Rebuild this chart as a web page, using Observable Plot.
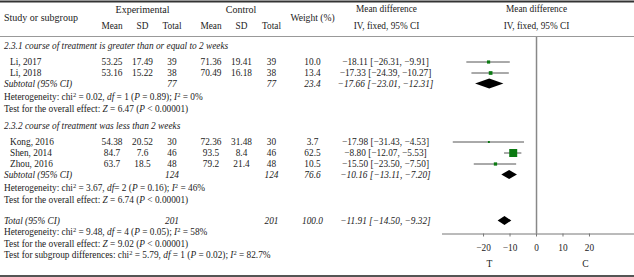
<!DOCTYPE html>
<html><head><meta charset="utf-8">
<script src="https://cdn.jsdelivr.net/npm/d3@7"></script>
<script src="https://cdn.jsdelivr.net/npm/@observablehq/plot@0.6"></script>
<style>
html,body{margin:0;padding:0;background:#fff;}
#chart{width:634px;height:277px;}
#chart svg{display:block;}
#chart svg text{font-family:'Liberation Serif','DejaVu Serif',serif;}
</style></head><body><div id="chart"></div>
<script>
// ---------- data ----------
const groupTitles = ["2.3.1 course of treatment is greater than or equal to 2 weeks",
                     "2.3.2 course of treatment was less than 2 weeks"];
const studies   = ["Li, 2017", "Li, 2018", "Kong, 2016", "Shen, 2014", "Zhou, 2016"];
const studyGroup = [0, 0, 1, 1, 1];
const expMean   = ["53.25", "53.16", "54.38", "84.7", "63.7"];
const expSD     = ["17.49", "15.22", "20.52", "7.6", "18.5"];
const expTotal  = [39, 38, 30, 46, 48];
const ctlMean   = ["71.36", "70.49", "72.36", "93.5", "79.2"];
const ctlSD     = ["19.41", "16.18", "31.48", "8.4", "21.4"];
const ctlTotal  = [39, 38, 30, 46, 48];
const weight    = [10.0, 13.4, 3.7, 62.5, 10.5];
const md        = [-18.11, -17.33, -17.98, -8.80, -15.50];
const mdLo      = [-26.31, -24.39, -31.43, -12.07, -23.50];
const mdHi      = [-9.91, -10.27, -4.53, -5.53, -7.50];
const subExp    = [77, 124];
const subCtl    = [77, 124];
const subWeight = [23.4, 76.6];
const subMD     = [-17.66, -10.16];
const subLo     = [-23.01, -13.11];
const subHi     = [-12.31, -7.20];
const subHet    = ["Heterogeneity: chi^2 = 0.02, _df_ = 1 (_P_ = 0.89); _I_^2 = 0%",
                   "Heterogeneity: chi^2 = 3.67, _df_= 2 (_P_ = 0.16); _I_^2 = 46%"];
const subTest   = ["Test for the overall effect: _Z_ = 6.47 (_P_ < 0.00001)",
                   "Test for the overall effect: _Z_ = 6.74 (_P_ < 0.00001)"];
const totalLabel = "Total (95% CI)";
const subLabel   = "Subtotal (95% CI)";
const totalExp = 201, totalCtl = 201, totalWeight = 100.0;
const totalMD = -11.91, totalLo = -14.50, totalHi = -9.32;
const totalStats = ["Heterogeneity: chi^2 = 9.48, _df_ = 4 (_P_ = 0.05); _I_^2 = 58%",
                    "Test for the overall effect: _Z_ = 9.02 (_P_ < 0.00001)",
                    "Test for subgroup differences: chi^2 = 5.79, _df_ = 1 (_P_ = 0.02); _I_^2 = 82.7%"];
const headTop   = ["Experimental", "Control", "Mean difference", "Mean difference"];
const headSide  = ["Study or subgroup", "Weight (%)"];
const headSub   = ["Mean", "SD", "Total", "Mean", "SD", "Total"];
const headMethod = "IV, fixed, 95% CI";
const xTicks    = [-20, -10, 0, 10, 20];
const sideLabels = ["T", "C"];

// ---------- layout ----------
const W = 634, H = 277;
const xDomain = [-35.5, 37];
const xRange = [442, 634];
const axisY = 233.5, headRuleY = 36;
const col = {name: 3.5, study: 9.5, eMean: 111.5, eSD: 142, eTot: 171.5, cMean: 210.5, cSD: 241, cTot: 271, wt: 312, md: 385};
const FONT = "'Liberation Serif', 'DejaVu Serif', serif";
const ink = "#222";
const FS = 9.3, FS_HEAD = 10;
const fmt = v => (v < 0 ? "\u2212" : "") + Math.abs(v).toFixed(2);
const mdText = (m, lo, hi) => `${fmt(m)} [${fmt(lo)}, ${fmt(hi)}]`;

const rows = [];
let y = 45.5;
groupTitles.forEach((title, g) => {
  if (g > 0) y += 17;
  rows.push({kind: "title", y, name: title});
  let first = true;
  studies.forEach((s, i) => {
    if (studyGroup[i] !== g) return;
    y += first ? 16 : 11; first = false;
    rows.push({kind: "study", y, i, name: s, eMean: expMean[i], eSD: expSD[i], eTot: expTotal[i],
      cMean: ctlMean[i], cSD: ctlSD[i], cTot: ctlTotal[i], wt: weight[i].toFixed(1),
      md: mdText(md[i], mdLo[i], mdHi[i]), est: md[i], lo: mdLo[i], hi: mdHi[i], w: weight[i]});
  });
  y += 11;
  rows.push({kind: "sub", y, name: subLabel, eTot: subExp[g], cTot: subCtl[g], wt: subWeight[g].toFixed(1),
    md: mdText(subMD[g], subLo[g], subHi[g]), est: subMD[g], lo: subLo[g], hi: subHi[g], h: g === 0 ? 5 : 4.5});
  y += 13.5; rows.push({kind: "stat", y, name: subHet[g]});
  y += 11.5; rows.push({kind: "stat", y, name: subTest[g]});
});
y += 21;
rows.push({kind: "sub", y, name: totalLabel, eTot: totalExp, cTot: totalCtl, wt: totalWeight.toFixed(1),
  md: mdText(totalMD, totalLo, totalHi), est: totalMD, lo: totalLo, hi: totalHi, h: 4.5});
totalStats.forEach(s => { y += 11.5; rows.push({kind: "stat", y, name: s}); });

const studyRows = rows.filter(r => r.kind === "study");
const sumRows = rows.filter(r => r.kind === "sub");
const diamonds = sumRows.flatMap((r, k) => [
  {id: k, x: r.lo, y1: r.y, y2: r.y},
  {id: k, x: r.est, y1: r.y - r.h, y2: r.y + r.h},
  {id: k, x: r.hi, y1: r.y, y2: r.y}
]);

const T = {fontFamily: FONT, fill: ink, fontSize: FS};
function colMarks(field, x, anchor) {
  const base = {...T, y: "y", text: field, frameAnchor: "left", dx: x, textAnchor: anchor};
  return [
    Plot.text(rows.filter(r => r[field] != null && r.kind === "study"), base),
    Plot.text(rows.filter(r => r[field] != null && r.kind === "sub"), {...base, fontStyle: "italic"})
  ];
}

// header cells: [text, x, y, size]
const headerCells = [
  [headTop[0], col.eSD, 9, FS_HEAD], [headTop[1], 240.5, 9, FS_HEAD], [headTop[2], 386, 9, FS],
  [headSide[1], col.wt, 17.5, 9.6],
  ...headSub.map((t, k) => [t, [col.eMean, col.eSD, col.eTot, col.cMean, col.cSD, col.cTot][k], 25.5, FS]),
  [headMethod, 386, 25.5, FS]
];
const headerMarks = headerCells.map(([t, x, yy, fs]) =>
  Plot.text([t], {...T, fontSize: fs, y: () => yy, text: d => d, frameAnchor: "left", dx: x, textAnchor: "middle"}));

const chart = Plot.plot({
  width: W, height: H,
  marginLeft: 0, marginRight: 0, marginTop: 37, marginBottom: H - axisY,
  style: {fontFamily: FONT, fontSize: FS + "px", background: "#fff", color: ink},
  x: {domain: xDomain, range: xRange},
  y: {type: "identity"},
  r: {type: "sqrt", domain: [0, 62.5], range: [0, 8 / Math.sqrt(Math.PI)]},
  marks: [
    // table rules
    Plot.ruleY([1], {stroke: "#333", strokeWidth: 2}),
    Plot.ruleY([headRuleY], {stroke: "#999", strokeWidth: 1}),
    Plot.ruleY([H - 1.5], {stroke: "#555", strokeWidth: 2}),
    // headers
    ...headerMarks,
    Plot.text([headSide[0]], {...T, fontSize: FS_HEAD, y: () => 17.5, text: d => d, frameAnchor: "left", dx: col.name, textAnchor: "start"}),
    Plot.text([headTop[3], headMethod], {...T, x: () => 0, y: (d, i) => i === 0 ? 9 : 25.5, text: d => d}),
    // row labels
    Plot.text(rows.filter(r => r.kind === "title"), {...T, y: "y", text: "name", frameAnchor: "left", dx: col.name, textAnchor: "start", fontStyle: "italic"}),
    Plot.text(studyRows, {...T, y: "y", text: "name", frameAnchor: "left", dx: col.study, textAnchor: "start"}),
    Plot.text(sumRows, {...T, y: "y", text: "name", frameAnchor: "left", dx: col.name, textAnchor: "start", fontStyle: "italic"}),
    Plot.text(rows.filter(r => r.kind === "stat"), {...T, y: "y", text: "name", frameAnchor: "left", dx: col.name, textAnchor: "start"}),
    ...colMarks("eMean", col.eMean, "middle"),
    ...colMarks("eSD", col.eSD, "middle"),
    ...colMarks("eTot", col.eTot, "middle"),
    ...colMarks("cMean", col.cMean, "middle"),
    ...colMarks("cSD", col.cSD, "middle"),
    ...colMarks("cTot", col.cTot, "middle"),
    ...colMarks("wt", col.wt, "middle"),
    ...colMarks("md", col.md, "middle"),
    // forest plot
    Plot.ruleX([0], {y1: headRuleY + 1, y2: axisY, stroke: "#888", strokeWidth: 1.5}),
    Plot.ruleY([axisY], {x1: xDomain[0], x2: xDomain[1], stroke: "#777", strokeWidth: 1}),
    Plot.axisX(xTicks, {tickSize: 3, tickPadding: 7, stroke: "#777", fill: ink, fontFamily: FONT, fontSize: FS, label: null,
      tickFormat: d => d < 0 ? "\u2212" + Math.abs(d) : String(d)}),
    Plot.text(sideLabels, {...T, fontSize: 9.6, x: (d, i) => i === 0 ? xDomain[0] / 2 : xDomain[1] / 2, y: () => 263, text: d => d}),
    Plot.ruleY(studyRows, {y: "y", x1: "lo", x2: "hi", stroke: "#555", strokeWidth: 1}),
    Plot.dot(studyRows, {x: "est", y: "y", r: "w", symbol: "square", fill: "#0b7a12", stroke: null}),
    Plot.area(diamonds, {x1: "x", y1: "y1", y2: "y2", z: "id", fill: "#000"})
  ]
});

// rich text: _italic_ and ^superscript
const svgns = "http://www.w3.org/2000/svg";
chart.querySelectorAll("text").forEach(el => {
  const s = el.textContent;
  if (!/[_^]/.test(s) || el.querySelector("tspan")) return;
  el.textContent = "";
  const re = /(_[^_]+_|\^\S)/g;
  let last = 0, m;
  const add = (str, opt) => {
    const t = document.createElementNS(svgns, "tspan");
    t.textContent = str;
    if (opt === "i") t.setAttribute("font-style", "italic");
    if (opt === "sup") { t.setAttribute("font-size", "70%"); t.setAttribute("baseline-shift", "super"); }
    el.appendChild(t);
  };
  while ((m = re.exec(s))) {
    if (m.index > last) add(s.slice(last, m.index));
    const tok = m[0];
    if (tok[0] === "_") add(tok.slice(1, -1), "i"); else add(tok.slice(1), "sup");
    last = m.index + tok.length;
  }
  if (last < s.length) add(s.slice(last));
});
document.getElementById("chart").appendChild(chart);
</script></body></html>
